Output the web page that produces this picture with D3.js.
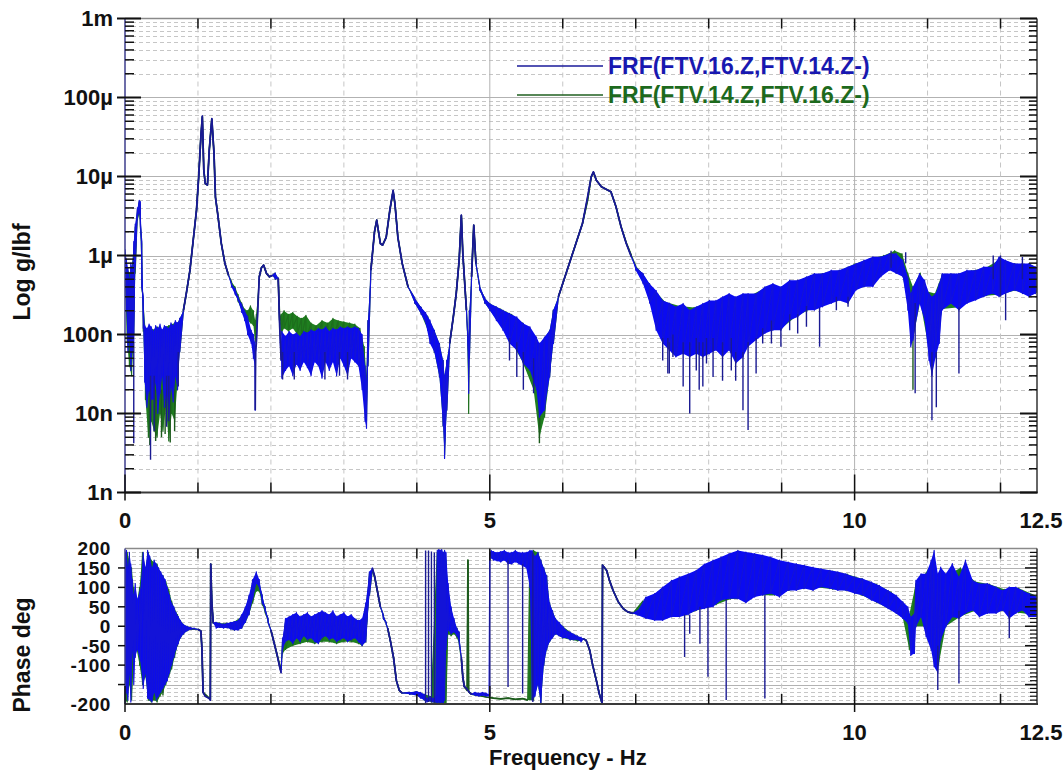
<!DOCTYPE html>
<html><head><meta charset="utf-8">
<script src="https://cdn.jsdelivr.net/npm/d3@7"></script>
<style>
body{margin:0;background:#fff}
svg{display:block;font-family:"Liberation Sans",Arial,sans-serif;font-weight:bold}
</style>
</head><body>
<svg id="c" width="1063" height="772"></svg>
<script>
// ---------- DATA ----------
// Frequency in Hz. Magnitudes in nano g/lbf (1 = 1n, 1e6 = 1m). Phase in degrees.
// Each entry: [freq, value] for a clean trace, or [freq, low, high] for the noisy band at that frequency.
const seriesNames = ["FRF(FTV.16.Z,FTV.14.Z-)", "FRF(FTV.14.Z,FTV.16.Z-)"];
const magTickValues = [1, 10, 100, 1e3, 1e4, 1e5, 1e6];
const magTickLabels = ["1n", "10n", "100n", "1\u00b5", "10\u00b5", "100\u00b5", "1m"];
const phaseTickValues = [200, 150, 100, 50, 0, -50, -100, -200];
const phaseTickLabels = ["200", "150", "100", "50", "0", "-50", "-100", "-200"];
const freqTickValues = [0, 5, 10, 12.5];
const freqTickLabels = ["0", "5", "10", "12.5"];

const blueMag = [
[0.00,500,1200],[0.02,200,900],[0.04,60,700],[0.06,90,500],[0.08,35,800],[0.10,60,700],[0.12,80,1500],
[0.14,700,2500],[0.17,3000,4000],[0.195,3500,5000],[0.21,2500,4800],[0.23,400,1500],[0.25,120,300],
[0.27,25,130],[0.30,12,120],[0.33,20,135],[0.36,15,125],[0.39,15,110],[0.42,25,130],[0.45,10,120],
[0.48,18,135],[0.51,30,115],[0.54,12,130],[0.57,20,125],[0.60,9,120],[0.63,22,140],[0.66,14,130],
[0.69,30,150],[0.72,20,140],[0.75,60,160],
[0.80,200],[0.84,330],[0.89,650],[0.93,1420],[0.98,3750],[1.01,9900],[1.04,32000],[1.06,58000],
[1.08,12000],[1.10,8150],[1.13,7800],[1.155,21600],[1.19,54200],[1.22,19500],[1.24,5450],[1.27,3400],
[1.32,1420],[1.37,790],[1.42,560],[1.46,400,440],[1.51,320,380],[1.55,270,300],[1.60,190,240],[1.64,150,200],
[1.68,100,170],[1.73,77,113],[1.76,50,100],[1.78,40,80],[1.785,11],[1.79,60],[1.80,77],[1.84,537],[1.87,700],
[1.90,755],[1.94,592],[1.98,537],[2.02,560],[2.06,500,600],[2.10,520],[2.12,125],[2.14,47],
[2.15,28,110],[2.20,35,95],[2.25,40,110],[2.30,30,100],[2.35,42,105],[2.40,35,95],[2.45,45,110],[2.50,38,105],
[2.55,30,115],[2.60,45,110],[2.65,40,120],[2.70,28,115],[2.75,45,125],[2.80,35,110],[2.85,45,120],[2.90,30,115],
[2.95,50,125],[3.00,40,120],[3.05,30,125],[3.10,50,120],[3.15,45,125],[3.20,40,120],[3.25,20,100],[3.29,8,40],
[3.31,6.5,25],[3.33,40,150],[3.37,650],[3.42,2000],[3.45,2800],[3.50,1420],[3.53,1350],[3.58,1700],[3.63,3750],
[3.675,6700],[3.70,4500],[3.74,1700],[3.80,790],[3.88,400],[3.97,250,290],[4.06,180,220],[4.12,140,190],
[4.18,77,152],[4.24,60,113],[4.31,29,77],[4.36,7,47],[4.38,2.7,30],[4.41,11,47],[4.45,77],[4.50,167],[4.54,330],
[4.58,870],[4.61,3240],[4.63,1060],[4.68,203],[4.71,18,60],[4.72,50,200],[4.75,537],[4.78,2420],[4.81,790],
[4.86,370,420],[4.93,250,290],[5.00,203,247],[5.09,150,224],[5.18,113,203],[5.27,77,185],[5.37,63,167],
[5.46,43,138],[5.55,35,125],[5.64,20,93],[5.68,9,77],[5.75,11,93],[5.82,29,113],[5.87,77,203],[5.94,300],
[6.00,442],[6.09,792],[6.18,1420],[6.27,2540],[6.34,5500],[6.39,9900],[6.42,11460],[6.46,8990],[6.53,7400],
[6.62,6700],[6.66,6400],[6.73,4130],[6.80,2300],[6.87,1420],[6.94,962],[7.00,650,720],[7.10,440,590],
[7.19,250,440],[7.28,113,360],[7.37,77,270],[7.46,63,250],[7.55,52,224],[7.65,57,247],[7.74,52,203],
[7.83,57,224],[7.92,52,247],[8.01,57,270],[8.10,63,270],[8.19,52,300],[8.28,63,330],[8.37,43,300],[8.47,52,330],
[8.54,70,330],[8.65,85,330],[8.77,103,401],[8.88,113,442],[8.99,113,401],[9.11,152,487],[9.22,167,487],
[9.34,203,537],[9.45,203,592],[9.56,224,592],[9.68,247,652],[9.79,270,652],[9.91,247,719],[10.02,364,792],
[10.13,401,873],[10.25,401,962],[10.36,537,962],[10.48,652,1060],[10.57,592,1060],[10.66,537,873],
[10.73,203,537],[10.77,70,330],[10.80,85,400],[10.89,247,592],[10.96,152,487],[11.02,47,330],[11.06,30,300],
[11.11,52,330],[11.16,77,442],[11.20,203,592],[11.32,247,592],[11.43,203,592],[11.54,247,652],[11.66,272,652],
[11.77,300,719],[11.89,330,719],[11.98,300,962],[12.07,330,873],[12.19,364,792],[12.30,330,792],[12.39,300,792],
[12.48,330,719],[12.5,350,700]
];
// isolated spikes: [freq, from, to]
const blueMagSpikes = [
[0.12,4.2,80],[0.35,2.6,30],[0.40,6,30],[0.57,6.8,30],[0.60,8,30],[0.73,22,60],
[2.16,27,60],[2.32,27,60],[2.74,27,60],[2.94,30,60],[3.05,27,60],
[5.27,47,90],[5.37,29,80],[5.46,20,60],[5.60,18,50],
[7.37,47,90],[7.44,32,90],[7.46,32,80],[7.51,52,100],[7.65,22,80],[7.74,10,80],[7.83,35,90],[7.87,20,80],
[7.92,22,80],[7.97,43,90],[8.06,29,90],[8.19,26,80],[8.31,35,90],[8.37,26,60],[8.47,11,60],
[8.54,6.2,80],[8.65,32,90],[8.74,77,120],[8.86,77,150],[8.99,70,120],[9.11,113,180],[9.22,103,180],
[9.34,125,230],[9.52,70,220],[9.75,203,300],[9.91,224,300],
[10.83,18,250],[11.06,8.2,60],[11.12,12,60],[11.43,32,220],[12.07,152,330],
[12.0,300,1000],[10.5,700,1150],[10.7,800,1100],[11.9,500,1000],[12.3,500,960]
];

const greenMag = [
[0.00,400,1100],[0.03,80,700],[0.06,40,600],[0.09,30,700],[0.12,100,1200],[0.14,600,2300],[0.17,2800,3800],
[0.195,3300,4800],[0.21,2300,4500],[0.23,400,1400],[0.25,110,280],[0.28,15,120],[0.32,5,110],[0.36,8,120],
[0.40,6,115],[0.44,5,125],[0.48,10,120],[0.52,6,110],[0.56,12,125],[0.60,4.5,130],[0.64,10,135],[0.68,8,140],
[0.72,25,140],[0.75,60,160],[0.80,200],[0.84,330],[0.89,650],[0.93,1420],[0.98,3750],[1.01,9900],[1.04,32000],
[1.06,57000],[1.08,12000],[1.10,8150],[1.13,7800],[1.155,21600],[1.19,53000],[1.22,19500],[1.24,5450],[1.27,3400],
[1.32,1420],[1.37,790],[1.42,560],[1.46,420,470],[1.51,330,400],[1.55,260,320],[1.60,200,250],[1.64,170,210],
[1.68,150,200],[1.72,140,230],[1.76,130,200],[1.785,80,150],[1.80,120,180],[1.84,537],[1.87,700],[1.90,755],
[1.94,592],[1.98,537],[2.02,560],[2.06,500,600],[2.10,520],[2.12,150],[2.14,100,180],[2.18,120,200],[2.24,110,180],
[2.30,120,190],[2.36,100,170],[2.42,90,160],[2.48,85,175],[2.55,80,140],[2.62,70,130],[2.70,80,150],[2.78,75,140],
[2.85,80,160],[2.92,70,150],[3.00,80,145],[3.08,75,140],[3.15,70,135],[3.22,50,120],[3.28,20,70],[3.31,8,30],
[3.33,40,150],[3.37,650],[3.42,2000],[3.45,2800],[3.50,1420],[3.53,1350],[3.58,1700],[3.63,3750],[3.675,6500],
[3.70,4500],[3.74,1700],[3.80,790],[3.88,400],[3.97,250,290],[4.06,180,220],[4.15,113,170],[4.24,60,113],
[4.31,29,77],[4.36,7,47],[4.38,3,30],[4.41,11,47],[4.45,77],[4.50,167],[4.54,330],[4.58,870],[4.61,3200],
[4.63,1060],[4.68,203],[4.71,10,60],[4.72,50,200],[4.75,537],[4.78,2400],[4.81,790],[4.86,370,420],[4.93,250,290],
[5.00,203,247],[5.15,130,210],[5.30,80,180],[5.45,45,140],[5.60,20,100],[5.68,5,70],[5.75,9,90],[5.82,29,113],
[5.87,77,203],[5.94,300],[6.00,442],[6.09,792],[6.18,1420],[6.27,2540],[6.34,5000],[6.39,9900],[6.42,11300],
[6.46,8990],[6.53,7400],[6.62,6700],[6.66,6400],[6.73,4130],[6.80,2300],[6.87,1450],[6.94,1000],[7.00,680,740],
[7.10,460,580],[7.2,280,420],[7.3,130,330],[7.4,90,260],[7.6,70,230],[7.8,70,220],[8.0,70,250],[8.2,70,280],
[8.4,60,300],[8.6,90,320],[8.8,110,400],[9.0,120,400],[9.2,170,470],[9.4,210,560],[9.6,240,600],[9.8,280,650],
[10.0,370,780],[10.2,420,900],[10.4,600,1000],[10.55,700,1150],[10.65,600,1050],[10.73,250,600],[10.8,90,400],
[10.9,260,600],[11.0,80,350],[11.1,50,330],[11.2,210,580],[11.4,220,580],[11.6,270,640],[11.8,310,700],[12.0,320,900],
[12.2,360,780],[12.4,310,780],[12.5,340,700]
];
const greenMagSpikes = [
[0.34,4,20],[0.42,4.5,20],[0.50,5,20],[0.55,5.5,20],[0.62,4.3,20],[0.68,6,20],[5.68,4.2,30],[10.8,20,200]
];

const bluePhase = [
[0.00,-195,190],[0.02,-170,195],[0.04,-190,150],[0.06,-120,190],[0.08,-195,160],[0.10,-60,120],
[0.12,-150,80],[0.14,-80,110],[0.17,-60,70],[0.21,-90,95],[0.25,-160,190],[0.28,-120,150],
[0.31,-185,195],[0.34,-190,180],[0.37,-195,150],[0.40,-170,170],[0.43,-190,160],[0.46,-180,150],
[0.49,-170,140],[0.52,-160,130],[0.55,-150,120],[0.58,-140,100],[0.61,-120,80],[0.64,-100,60],
[0.67,-80,50],[0.70,-60,35],[0.73,-45,25],[0.76,-30,15],[0.80,-20,5],[0.85,-12,0],[0.90,-8,-3],
[0.95,-7,-5],[1.00,-8],[1.04,-12],[1.055,-60],[1.07,-170],[1.10,-180],[1.15,-185],[1.17,-190],
[1.175,160],[1.19,60],[1.21,8],
[1.25,-5,10],[1.30,-3,8],[1.35,-5,6],[1.40,-4,8],[1.45,-8,10],[1.50,-10,12],[1.55,-10,15],
[1.60,-5,30],[1.65,10,50],[1.70,30,80],[1.75,70,120],[1.80,110,140],[1.84,100,120],[1.88,60,80],
[1.92,40,50],[1.96,10,20],[2.00,-10],[2.04,-40],[2.08,-70],[2.12,-105],[2.14,-120],[2.16,-60,-30],
[2.20,-40,20],[2.25,-35,25],[2.30,-45,30],[2.35,-30,35],[2.40,-40,25],[2.45,-25,30],[2.50,-35,35],
[2.55,-30,25],[2.60,-40,30],[2.65,-45,35],[2.70,-30,40],[2.75,-25,35],[2.80,-35,30],[2.85,-30,40],
[2.90,-40,25],[2.95,-35,30],[3.00,-30,35],[3.05,-40,25],[3.10,-35,30],[3.15,-30,20],[3.20,-40,15],
[3.25,-50,20],[3.30,-40,60],[3.35,80,140],[3.39,150],[3.42,130],[3.46,90],[3.50,50],[3.54,20,30],
[3.58,5,10],[3.60,-5],[3.64,-40],[3.68,-80],[3.72,-140],[3.76,-165],[3.80,-172],[3.90,-175,-170],
[4.00,-178,-168],[4.05,-185,-170],[4.10,-190,-175],[4.14,-195,-185],[4.18,-192,-182],[4.22,-195,-185],
[4.26,-195,-180],[4.28,-200,195],[4.30,-195,200],[4.32,-200,195],[4.34,-195,200],[4.36,-200,190],
[4.38,-190,195],[4.40,-60,190],[4.43,-10,110],[4.47,-20,50],[4.51,-15,20],[4.55,-25,-5],[4.58,-40,-15],
[4.61,-80],[4.63,-130],[4.65,-155],[4.68,-160],[4.72,-170],[4.75,-175],[4.80,-178,-170],[4.85,-180,-172],
[4.90,-178,-170],[4.95,-180,-172],[4.99,-180,-175],[5.00,185],[5.02,175,195],[5.05,170,192],[5.10,168,190],
[5.15,165,192],[5.20,170,195],[5.25,160,190],[5.30,160,190],[5.35,165,195],[5.40,160,190],[5.45,155,190],
[5.50,150,190],[5.55,100,195],[5.58,-190,195],[5.62,-180,180],[5.66,-150,190],[5.70,-200,170],[5.74,-100,150],
[5.78,-60,130],[5.82,-40,60],[5.86,-30,40],[5.90,-20,20],[5.95,-25,10],[6.00,-30,0],[6.05,-30,-10],
[6.10,-35,-15],[6.15,-35,-20],[6.20,-35,-25],[6.25,-40,-28],[6.28,-32],[6.32,-36],[6.37,-62],[6.41,-100],
[6.46,-139],[6.50,-173],[6.54,-199],[6.545,157],[6.60,144],[6.64,118],[6.69,92],[6.76,63],[6.83,45],
[6.89,37],[6.96,33],[7.03,28,41],[7.14,20,75],[7.26,15,84],[7.37,15,101],[7.49,24,118],[7.60,24,127],
[7.72,30,135],[7.83,41,144],[7.94,45,160],[8.06,50,170],[8.17,67,178],[8.28,71,187],[8.40,71,195],
[8.51,60,191],[8.63,75,187],[8.74,80,183],[8.85,84,178],[8.97,75,170],[9.09,92,165],[9.20,92,161],
[9.31,97,157],[9.43,92,152],[9.54,101,148],[9.66,97,144],[9.77,92,140],[9.88,92,135],[10.0,84,127],
[10.11,80,122],[10.23,67,114],[10.34,58,105],[10.46,45,92],[10.57,33,80],[10.66,20,63],[10.73,7,50],
[10.77,-75,24],[10.82,-70,33],[10.84,-2,118],[10.91,24,135],[10.98,-27,135],[11.05,-62,170],[11.09,-104,195],
[11.14,-120,135],[11.18,-36,152],[11.25,-2,135],[11.34,24,161],[11.43,20,127],[11.52,33,170],[11.62,41,118],
[11.71,24,110],[11.82,33,110],[11.94,33,101],[12.03,41,92],[12.12,20,101],[12.21,33,101],[12.30,41,92],
[12.39,24,84],[12.5,24,75]
];
const bluePhaseSpikes = [
[4.12,-198,195],[4.16,-195,195],[4.20,-196,192],[4.24,-198,190],[5.00,-180,190],[5.25,-156,170],
[5.45,-173,160],[5.59,-195,190],[7.67,-79,30],[7.74,-19,30],[7.88,-45,50],[7.99,-130,50],[8.24,-190,70],
[8.77,-186,80],[11.14,-164,-50],[11.43,-147,40],[12.12,-30,40]
];

const greenPhase = [
[0.00,-190,180],[0.03,-195,190],[0.06,-150,170],[0.09,-190,150],[0.12,-100,100],[0.16,-60,60],
[0.20,-100,100],[0.24,-150,190],[0.28,-130,150],[0.32,-190,190],[0.36,-195,170],[0.40,-190,165],
[0.44,-195,160],[0.48,-180,140],[0.52,-170,130],[0.56,-150,115],[0.60,-130,95],[0.64,-110,65],
[0.68,-80,45],[0.72,-50,30],[0.76,-30,15],[0.80,-20,5],[0.85,-12,0],[0.90,-8,-3],[1.00,-8],[1.04,-12],
[1.055,-60],[1.07,-170],[1.17,-188],[1.175,160],[1.19,60],[1.21,8],[1.30,-3,8],[1.40,-4,8],[1.50,-10,12],
[1.60,-5,25],[1.65,10,45],[1.70,30,75],[1.75,60,110],[1.80,90,125],[1.84,90,115],[1.88,55,80],[1.92,35,50],
[1.96,10,20],[2.00,-10],[2.04,-40],[2.08,-70],[2.12,-100],[2.14,-110],[2.16,-70,-40],[2.20,-60,10],
[2.3,-50,20],[2.4,-45,20],[2.5,-40,25],[2.6,-45,25],[2.7,-40,30],[2.8,-40,25],[2.9,-45,20],[3.0,-40,25],
[3.1,-40,25],[3.2,-45,15],[3.25,-50,15],[3.30,-40,55],[3.35,80,135],[3.39,145],[3.42,128],[3.46,90],
[3.50,50],[3.54,20,30],[3.58,5,10],[3.60,-5],[3.64,-40],[3.68,-80],[3.72,-140],[3.76,-165],[3.80,-172],
[3.90,-175,-170],[4.00,-178,-168],[4.10,-190,-175],[4.20,-195,-180],[4.28,-200,190],[4.32,-200,195],
[4.36,-200,190],[4.40,-200,170],[4.43,-20,100],[4.47,-25,45],[4.51,-20,15],[4.55,-30,-5],[4.58,-45,-15],
[4.61,-85],[4.63,-130],[4.65,-155],[4.69,-165],[4.70,170],[4.71,-168],[4.75,-175],[4.85,-178],[4.95,-182],
[5.05,-185],[5.15,-187],[5.25,-185],[5.35,-188],[5.45,-186],[5.52,-190],[5.55,-190,190],[5.60,-190,195],
[5.66,-150,190],[5.70,-200,170],[5.74,-100,150],[5.78,-60,130],[5.82,-40,60],[5.90,-20,20],[6.00,-30,0],
[6.1,-35,-15],[6.2,-38,-25],[6.28,-32],[6.32,-36],[6.37,-62],[6.41,-100],[6.46,-139],[6.50,-173],[6.54,-199],
[6.545,157],[6.60,144],[6.64,118],[6.69,92],[6.76,63],[6.83,45],[6.89,37],[6.96,33],[7.1,25,65],[7.3,20,85],
[7.5,25,110],[7.7,30,130],[7.9,45,150],[8.1,55,170],[8.3,70,180],[8.5,70,185],[8.7,80,180],[8.9,80,172],
[9.1,92,162],[9.3,97,155],[9.5,100,148],[9.7,95,142],[9.9,92,134],[10.1,80,122],[10.3,62,108],[10.5,42,88],
[10.66,22,62],[10.75,-60,30],[10.84,0,110],[10.95,0,130],[11.05,-50,160],[11.15,-100,130],[11.25,0,130],
[11.45,25,150],[11.65,40,115],[11.85,35,108],[12.05,40,95],[12.25,35,98],[12.5,28,78]
];
const greenPhaseSpikes = [
[0.38,-190,50],[0.45,-185,40],[0.52,-178,30],[4.70,-165,170]
];

// ---------- DRAWING ----------
const svg = d3.select("#c");
const X0 = 125, X1 = 1037;
const MAG_TOP = 18.5, MAG_BOT = 492.5, PH_TOP = 548.5, PH_BOT = 704;
const x = d3.scaleLinear().domain([0, 12.5]).range([X0, X1]);
const yM = d3.scaleLog().domain([1, 1e6]).range([MAG_BOT, MAG_TOP]);
const yP = d3.scaleLinear().domain([-200, 200]).range([PH_BOT, PH_TOP]);

const COL = {
  blueFill: "#0b0bf0", blueNoise: "#1313d8", blueLine: "#1a1a92",
  greenFill: "#1f7f1f", greenNoise: "#1d6e1d", greenLine: "#1c5a1c",
  gridMajor: "#b2b2b2", gridMinor: "#c6c6c6"
};

const defs = svg.append("defs");
defs.append("clipPath").attr("id", "clipM").append("rect")
  .attr("x", X0).attr("y", MAG_TOP).attr("width", X1 - X0).attr("height", MAG_BOT - MAG_TOP);
defs.append("clipPath").attr("id", "clipP").append("rect")
  .attr("x", X0).attr("y", PH_TOP).attr("width", X1 - X0).attr("height", PH_BOT - PH_TOP);

function hline(g, y, dashed, color) {
  g.append("line").attr("x1", X0).attr("x2", X1).attr("y1", y).attr("y2", y)
    .attr("stroke", color).attr("stroke-width", 1)
    .attr("stroke-dasharray", dashed ? "4,3" : null);
}
function vgrid(g, top, bot) {
  for (let f = 1; f <= 12; f++) {
    const major = f % 5 === 0;
    g.append("line").attr("x1", x(f)).attr("x2", x(f)).attr("y1", top).attr("y2", bot)
      .attr("stroke", major ? COL.gridMajor : COL.gridMinor).attr("stroke-width", 1)
      .attr("stroke-dasharray", major ? null : "5,4");
  }
}

// Magnitude grid
const gM = svg.append("g");
for (let d = 1; d < 1e6; d *= 10) {
  for (let k = 2; k <= 9; k++) hline(gM, Math.round(yM(d * k)) + 0.5, true, COL.gridMinor);
  if (d > 1) hline(gM, Math.round(yM(d)) + 0.5, false, COL.gridMajor);
}
vgrid(gM, MAG_TOP, MAG_BOT);

// Phase grid
const gP = svg.append("g");
for (let p = -190; p < 200; p += 10) {
  if (p % 50 === 0) hline(gP, Math.round(yP(p)) + 0.5, false, COL.gridMajor);
  else hline(gP, Math.round(yP(p)) + 0.5, true, COL.gridMinor);
}
vgrid(gP, PH_TOP, PH_BOT);

function norm(data) { return data.map(d => d.length === 2 ? [d[0], d[1], d[1]] : d); }
function drawSeries(g, data, spikes, yS, fill, noise, stroke) {
  const nd = norm(data);
  const area = d3.area().x(d => x(d[0])).y0(d => yS(d[1])).y1(d => yS(d[2]));
  g.append("path").attr("d", area(nd)).attr("fill", fill).attr("stroke", "none");
  const pts = nd.flatMap(d => d[1] === d[2] ? [[d[0], d[1], 1]] : [[d[0], d[2], 0], [d[0], d[1], 0]]);
  const line = d3.line().x(d => x(d[0])).y(d => yS(d[1]));
  // noisy zig-zag through every reading
  g.append("path").attr("d", line(pts)).attr("fill", "none").attr("stroke", noise)
    .attr("stroke-width", 1.2).attr("stroke-linejoin", "round");
  // clean stretches in the darker trace colour
  const segs = [];
  let cur = [];
  pts.forEach(d => {
    if (d[2] === 1) cur.push(d);
    else { if (cur.length > 1) segs.push(cur); cur = []; }
  });
  if (cur.length > 1) segs.push(cur);
  g.selectAll(null).data(segs).join("path").attr("d", s => line(s)).attr("fill", "none")
    .attr("stroke", stroke).attr("stroke-width", 1.7).attr("stroke-linejoin", "round");
  g.selectAll(null).data(spikes).join("line")
    .attr("x1", d => x(d[0])).attr("x2", d => x(d[0]))
    .attr("y1", d => yS(d[1])).attr("y2", d => yS(d[2]))
    .attr("stroke", stroke).attr("stroke-width", 1.4);
}

const sM = svg.append("g").attr("clip-path", "url(#clipM)");
drawSeries(sM, greenMag, greenMagSpikes, yM, COL.greenFill, COL.greenNoise, COL.greenLine);
drawSeries(sM, blueMag, blueMagSpikes, yM, COL.blueFill, COL.blueNoise, COL.blueLine);

const sP = svg.append("g").attr("clip-path", "url(#clipP)");
drawSeries(sP, greenPhase, greenPhaseSpikes, yP, COL.greenFill, COL.greenNoise, COL.greenLine);
drawSeries(sP, bluePhase, bluePhaseSpikes, yP, COL.blueFill, COL.blueNoise, COL.blueLine);

// Frames
function frame(top, bot) {
  const g = svg.append("g");
  g.append("line").attr("x1", X0).attr("x2", X1).attr("y1", top).attr("y2", top).attr("stroke", "#8a8a8a").attr("stroke-width", 1.5);
  g.append("line").attr("x1", X1).attr("x2", X1).attr("y1", top).attr("y2", bot).attr("stroke", "#333").attr("stroke-width", 1.5);
  g.append("line").attr("x1", X0).attr("x2", X1 + 1).attr("y1", bot).attr("y2", bot).attr("stroke", "#3a3a3a").attr("stroke-width", 2);
  g.append("line").attr("x1", X0).attr("x2", X0).attr("y1", top).attr("y2", bot).attr("stroke", "#3c3c8c").attr("stroke-width", 1.5);
  return g;
}
const fM = frame(MAG_TOP, MAG_BOT);
const fP = frame(PH_TOP, PH_BOT);

function tick(g, x1, y1, x2, y2, w) {
  g.append("line").attr("x1", x1).attr("y1", y1).attr("x2", x2).attr("y2", y2)
    .attr("stroke", "#111").attr("stroke-width", w || 1.5);
}
[[fM, MAG_TOP, MAG_BOT], [fP, PH_TOP, PH_BOT]].forEach(([g, top, bot]) => {
  for (let f = 0; f <= 12; f++) {
    const major = f % 5 === 0;
    const xx = x(f);
    if (f > 0) tick(g, xx, top, xx, top + (major ? 12 : 10));
    tick(g, xx, bot - (major ? 18 : 10), xx, bot + (major ? 8 : 0));
  }
});
for (let d = 1; d <= 1e6; d *= 10) {
  const yy = yM(d);
  tick(fM, X0 - 8, yy, X0 + 16, yy, 2);
  tick(fM, X1 - 17, yy, X1, yy, 2);
  if (d < 1e6) for (let k = 2; k <= 9; k++) {
    const yk = yM(d * k);
    tick(fM, X0, yk, X0 + 9, yk, 1.5);
    tick(fM, X1 - 8, yk, X1, yk, 1.5);
  }
}
for (let p = -190; p < 200; p += 10) {
  const yy = yP(p);
  if (p % 50 === 0) { tick(fP, X0 - 7, yy, X0, yy, 1.5); tick(fP, X1 - 12, yy, X1, yy, 1.5); }
  else tick(fP, X1 - 7, yy, X1, yy, 1.2);
}

// Tick labels
const TXT = "#111";
svg.append("g").selectAll("text").data(magTickValues).join("text")
  .attr("x", 113).attr("y", d => yM(d)).attr("dy", "0.36em").attr("text-anchor", "end")
  .attr("font-size", 22).attr("fill", TXT).text((d, i) => magTickLabels[i]);
svg.append("g").selectAll("text").data(phaseTickValues).join("text")
  .attr("x", 111).attr("y", d => yP(d)).attr("dy", "0.36em").attr("text-anchor", "end")
  .attr("font-size", 19).attr("letter-spacing", 0.6).attr("fill", TXT).text((d, i) => phaseTickLabels[i]);
[520, 732].forEach(yy => {
  svg.append("g").selectAll("text").data(freqTickValues).join("text")
    .attr("x", d => d === 12.5 ? x(d) + 4 : x(d)).attr("y", yy).attr("dy", "0.36em").attr("text-anchor", "middle")
    .attr("font-size", 22).attr("fill", TXT).text((d, i) => freqTickLabels[i]);
});

// Axis titles
svg.append("text").attr("transform", "translate(30,272) rotate(-90)").attr("text-anchor", "middle")
  .attr("font-size", 23).attr("fill", TXT).text("Log g/lbf");
svg.append("text").attr("transform", "translate(30,655) rotate(-90)").attr("text-anchor", "middle")
  .attr("font-size", 23).attr("fill", TXT).text("Phase deg");
svg.append("text").attr("x", 489).attr("y", 757).attr("dy", "0.36em").attr("text-anchor", "start")
  .attr("font-size", 22).attr("fill", TXT).text("Frequency - Hz");

// Legend
const leg = svg.append("g");
const legendRows = [
  { name: seriesNames[0], line: "#1a1a9a", text: "#1818b0", y: 66 },
  { name: seriesNames[1], line: "#1f5f1f", text: "#1d6a1d", y: 95 }
];
legendRows.forEach(r => {
  leg.append("line").attr("x1", 517).attr("x2", 603).attr("y1", r.y).attr("y2", r.y)
    .attr("stroke", r.line).attr("stroke-width", 1.6);
  leg.append("text").attr("x", 608).attr("y", r.y).attr("dy", "0.36em")
    .attr("font-size", 23).attr("fill", r.text).text(r.name);
});
</script>
</body></html>
